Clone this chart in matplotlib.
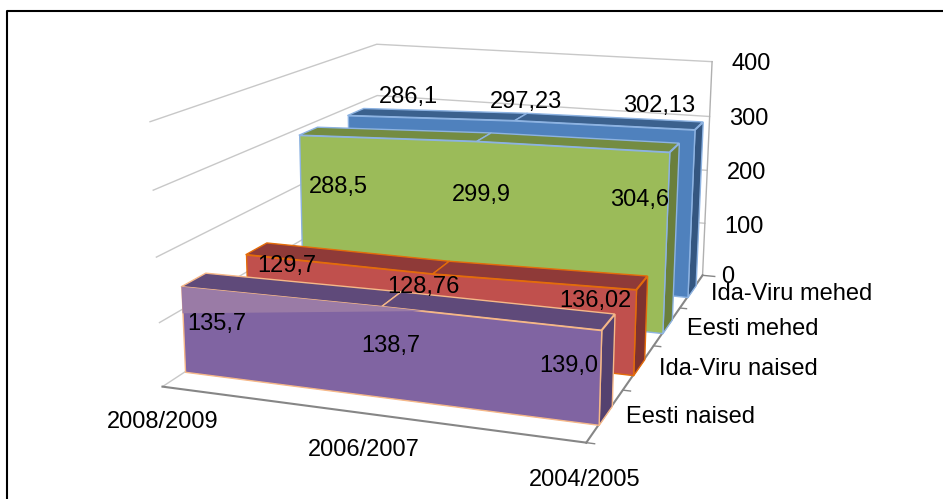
import numpy as np
import matplotlib
matplotlib.use('Agg')
import matplotlib.pyplot as plt
from mpl_toolkits.mplot3d.art3d import Poly3DCollection

categories = ['2008/2009', '2006/2007', '2004/2005']
series_names = ['Eesti naised', 'Ida-Viru naised', 'Eesti mehed', 'Ida-Viru mehed']
eesti_naised = [135.7, 138.7, 139.0]
idaviru_naised = [129.7, 128.76, 136.02]
eesti_mehed = [288.5, 299.9, 304.6]
idaviru_mehed = [286.1, 297.23, 302.13]
eesti_naised_labels = ['135,7', '138,7', '139,0']
idaviru_naised_labels = ['129,7', '128,76', '136,02']
eesti_mehed_labels = ['288,5', '299,9', '304,6']
idaviru_mehed_labels = ['286,1', '297,23', '302,13']
value_ticks = [0, 100, 200, 300, 400]

W, H = 943, 499
plt.rcParams['font.family'] = ['Liberation Sans', 'DejaVu Sans']
fig = plt.figure(figsize=(W/100, H/100), dpi=100)

# square 3D axes running past the figure; the 2D view limits place the camera picture
A, B, L = -50, -300, 1100
ax = fig.add_axes([A/W, 1-(B+L)/H, L/W, L/H], projection='3d')
ax.view_init(14.1942, -71.1294, -0.2409)
ax.set_proj_type('persp', focal_length=float(np.exp(-0.8593)))
ax.set_box_aspect((1.0031, 1.3275, 0.6343))
sx, tx, sy, ty = 3682.55, 463.25, -3593.04, 208.79
ax.viewLim.intervalx = ((A-tx)/sx, (A+L-tx)/sx)
ax.viewLim.intervaly = ((B+L-ty)/sy, (B-ty)/sy)
ax.set_axis_off()
ax.patch.set_alpha(0)
ax.computed_zorder = False

GRID = '#c8c8c8'
AXC = '#868686'
for z in value_ticks[1:]:
    ax.plot([0, 0, 1], [0, 4, 4], [z, z, z], color=GRID, lw=1, zorder=1)
ax.plot([0, 0], [0, 4], [0, 0], color=GRID, lw=1, zorder=1)
ax.plot([1, 1], [4, 4], [0, 400], color='#b0b0b0', lw=1, zorder=1)
ax.plot([0, 1], [0, 0], [0, 0], color=AXC, lw=1.5, zorder=2)
ax.plot([1, 1], [0, 4], [0, 0], color=AXC, lw=1.5, zorder=2)
for i in range(5):
    ax.plot([1, 1.035 if i == 4 else 1.018], [i, i], [0, 0], color=AXC, lw=1, zorder=2)

xs = [0, .5, 1]
styles = [('#8064A2', '#5F4A7A', '#54416F', '#F6B888'),
          ('#C0504D', '#8F3A38', '#7E3230', '#E46C0A'),
          ('#9BBB59', '#748C42', '#6A7F3C', '#8DB3E2'),
          ('#4F81BD', '#3B618E', '#345680', '#8DB3E2')]
GAP = .32
data = [eesti_naised, idaviru_naised, eesti_mehed, idaviru_mehed]
base = 100
for i in range(3, -1, -1):
    v = data[i]
    f, t, sd, ec = styles[i]
    y0, y1 = i+GAP, i+1-GAP
    front = [[(xs[j], y0, 0) for j in range(3)] + [(xs[j], y0, v[j]) for j in (2, 1, 0)]]
    top = [[(xs[j], y0, v[j]), (xs[j+1], y0, v[j+1]), (xs[j+1], y1, v[j+1]), (xs[j], y1, v[j])] for j in range(2)]
    side = [[(1, y0, 0), (1, y1, 0), (1, y1, v[2]), (1, y0, v[2])]]
    z = base+(3-i)*10
    for verts, col, dz in ((side, sd, 0), (top, t, 1), (front, f, 2)):
        ax.add_collection3d(Poly3DCollection(verts, facecolor=col, edgecolor=ec, linewidth=1, zorder=z+dz), autolim=False)

# lighter dithered wedge on the front purple face
v = eesti_naised
topAt = v[1]+.2*(v[2]-v[1])
ax.add_collection3d(Poly3DCollection([[(0, GAP, v[0]*.69), (0, GAP, v[0]), (.5, GAP, v[1]), (.6, GAP, topAt)]],
                                     facecolor='#9A7BA6', edgecolor='none', zorder=base+33), autolim=False)

ax.set_xlim(0, 1, view_margin=0)
ax.set_ylim(0, 4, view_margin=0)
ax.set_zlim(0, 400, view_margin=0)

def T(px, py, s, **k):
    k.setdefault('ha', 'center')
    fig.text(px/W, 1-(py+2)/H, s, fontsize=17, va='center', color='black', zorder=50, **k)

pos = [[(217, 322), (391, 344), (569, 364)], [(287, 264), (423, 285), (595, 299)],
       [(338, 185), (481, 193), (640, 198)], [(408, 95), (526, 100), (659, 104)]]
labs = [eesti_naised_labels, idaviru_naised_labels, eesti_mehed_labels, idaviru_mehed_labels]
for P, LB in zip(pos, labs):
    for (x, y), s in zip(P, LB):
        T(x, y, s)
for z, (x, y) in zip(value_ticks, [(728, 275), (744, 225), (747, 171), (749, 117), (751, 62)]):
    T(x, y, str(z))
for s, (x, y) in zip(series_names, [(626, 415), (659, 367), (687, 327), (711, 292)]):
    T(x, y, s, ha='left')
for s, (x, y) in zip(categories, [(163, 420), (364, 448), (585, 478)]):
    T(x, y, s)
fig.add_artist(plt.Line2D([7/W, 7/W, 1], [0, 1-11/H, 1-11/H], color='black', lw=1.5))
fig.savefig('out.png', dpi=100)
